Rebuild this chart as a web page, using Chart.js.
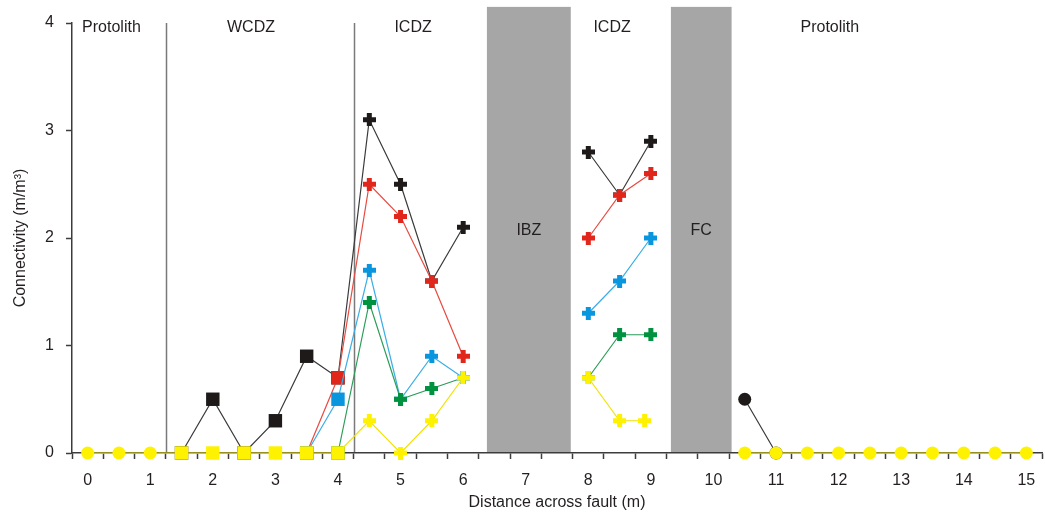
<!DOCTYPE html>
<html>
<head>
<meta charset="utf-8">
<script src="https://cdn.jsdelivr.net/npm/chart.js@4/dist/chart.umd.min.js"></script>
<style>
  html, body { margin: 0; padding: 0; background: #fff; }
  #wrap { width: 1045px; height: 522px; }
</style>
</head>
<body>
<div id="wrap"><canvas id="myChart"></canvas></div>
<script>
// Connectivity (m/m3) against distance across the fault (m); null = break in the line
const blackX  = [1.5, 2, 2.5, 3, 3.5, 4, 4.5, 5, 5.5, 6, 7, 8, 8.5, 9, 10, 10.5, 11];
const blackY  = [0, 0.5, 0, 0.3, 0.9, 0.7, 3.1, 2.5, 1.6, 2.1, null, 2.8, 2.4, 2.9, null, 0.5, 0];
const redX    = [3.5, 4, 4.5, 5, 5.5, 6, 7, 8, 8.5, 9];
const redY    = [0, 0.7, 2.5, 2.2, 1.6, 0.9, null, 2.0, 2.4, 2.6];
const blueX   = [3.5, 4, 4.5, 5, 5.5, 6, 7, 8, 8.5, 9];
const blueY   = [0, 0.5, 1.7, 0.5, 0.9, 0.7, null, 1.3, 1.6, 2.0];
const greenX  = [4, 4.5, 5, 5.5, 6, 7, 8, 8.5, 9];
const greenY  = [0, 1.4, 0.5, 0.6, 0.7, null, 0.7, 1.1, 1.1];
const yellowX = [0, 0.5, 1, 1.5, 2, 2.5, 3, 3.5, 4, 4.5, 5, 5.5, 6, 7, 8, 8.5, 8.9, 10,
                 10.5, 11, 11.5, 12, 12.5, 13, 13.5, 14, 14.5, 15];
const yellowY = [0, 0, 0, 0, 0, 0, 0, 0, 0, 0.3, 0, 0.3, 0.7, null, 0.7, 0.3, 0.3, null,
                 0, 0, 0, 0, 0, 0, 0, 0, 0, 0];

// zones along the traverse
const zoneLabels = ['Protolith', 'WCDZ', 'ICDZ', 'ICDZ', 'Protolith'];
const zoneLabelX = [0.38, 2.61, 5.2, 8.38, 11.86];
const zoneLines  = [1.25, 4.25];
const bandLabels = ['IBZ', 'FC'];
const bandFrom   = [6.38, 9.32];
const bandTo     = [7.72, 10.29];

const textColor = '#231f20';
const axisColor = '#3c3c3c';
const fontFam = '"Liberation Sans", Arial, sans-serif';

function plusMarker(color) {
  const s = 13, a = 5, o = 4;
  const c = document.createElement('canvas');
  c.width = s; c.height = s;
  const g = c.getContext('2d');
  g.fillStyle = color;
  g.fillRect(o, 0, a, s);
  g.fillRect(0, o, s, a);
  return c;
}

// marker shape depends on which zone the sample sits in
function markerFor(x, plus) {
  if (x < 1.25 || x > 10.3) return 'circle';
  if (x < 4.25) return 'rect';
  return plus;
}
function radiusFor(x) {
  if (x < 1.25 || x > 10.3) return 6.5;
  if (x < 4.25) return 9.5;
  return 7;
}

function series(xs, ys, marker, line) {
  const plus = plusMarker(marker);
  return {
    data: xs.map((x, i) => ({ x: x, y: ys[i] })),
    borderColor: line,
    borderWidth: 1.2,
    backgroundColor: marker,
    pointBackgroundColor: marker,
    pointBorderColor: marker,
    pointBorderWidth: 0,
    pointStyle: xs.map(x => markerFor(x, plus)),
    pointRadius: xs.map(x => radiusFor(x)),
    tension: 0,
    spanGaps: false,
    clip: false
  };
}

const xTickValues = [];
for (let i = 0; i <= 62; i++) xTickValues.push(-0.25 + i * 0.25);

const zones = {
  id: 'zones',
  beforeDraw(chart) {
    const { ctx, chartArea } = chart;
    const xs = chart.scales.x, ys = chart.scales.y;
    ctx.save();
    ctx.fillStyle = '#a6a6a6';
    const bandTop = ys.getPixelForValue(4.15);
    for (let i = 0; i < bandFrom.length; i++) {
      const l = xs.getPixelForValue(bandFrom[i]);
      const r = xs.getPixelForValue(bandTo[i]);
      ctx.fillRect(l, bandTop, r - l, chartArea.bottom - bandTop);
    }
    ctx.strokeStyle = '#7a7a7a';
    ctx.lineWidth = 1.5;
    zoneLines.forEach(v => {
      const px = Math.round(xs.getPixelForValue(v)) + 0.5;
      ctx.beginPath();
      ctx.moveTo(px, chartArea.top);
      ctx.lineTo(px, chartArea.bottom);
      ctx.stroke();
    });
    ctx.fillStyle = textColor;
    ctx.font = '16px ' + fontFam;
    ctx.textAlign = 'center';
    ctx.textBaseline = 'middle';
    zoneLabels.forEach((t, i) => {
      ctx.fillText(t, xs.getPixelForValue(zoneLabelX[i]), ys.getPixelForValue(3.96));
    });
    bandLabels.forEach((t, i) => {
      ctx.fillText(t, xs.getPixelForValue((bandFrom[i] + bandTo[i]) / 2), ys.getPixelForValue(2.07));
    });
    ctx.restore();
  }
};

new Chart(document.getElementById('myChart').getContext('2d'), {
  type: 'line',
  data: {
    datasets: [
      series(yellowX, yellowY, '#fff200', '#f2e200'),
      series(greenX, greenY, '#00923f', '#2a9d58'),
      series(blueX, blueY, '#0a96de', '#3aaee6'),
      series(redX, redY, '#e1261c', '#e84a40'),
      series(blackX, blackY, '#1e1a1a', '#3a3a3a')
    ]
  },
  options: {
    responsive: true,
    maintainAspectRatio: false,
    animation: false,
    layout: { autoPadding: false, padding: { top: 23, right: 3, left: 0, bottom: 0 } },
    plugins: {
      legend: { display: false },
      tooltip: { enabled: false }
    },
    scales: {
      x: {
        type: 'linear',
        min: -0.25,
        max: 15.25,
        afterBuildTicks: axis => { axis.ticks = xTickValues.map(v => ({ value: v })); },
        afterFit: axis => { axis.height = 69; axis.paddingLeft = 0; axis.paddingRight = 0; },
        ticks: {
          autoSkip: false,
          maxRotation: 0,
          padding: 12,
          color: textColor,
          font: { family: fontFam, size: 16 },
          callback: v => Number.isInteger(v) ? String(v) : ''
        },
        grid: {
          drawOnChartArea: false,
          tickLength: 6,
          tickWidth: 1.5,
          tickColor: c => (c.tick && Math.abs(c.tick.value % 0.5) === 0.25) ? axisColor : 'rgba(0,0,0,0)'
        },
        border: { color: axisColor, width: 1.5 },
        title: {
          display: true,
          text: 'Distance across fault (m)',
          color: textColor,
          font: { family: fontFam, size: 16 },
          padding: { top: 0, bottom: 10 }
        }
      },
      y: {
        min: 0,
        max: 4,
        afterFit: axis => { axis.width = 72; },
        ticks: {
          stepSize: 1,
          padding: 12,
          color: textColor,
          font: { family: fontFam, size: 16 }
        },
        grid: {
          drawOnChartArea: false,
          tickLength: 6,
          tickWidth: 1.5,
          tickColor: axisColor
        },
        border: { color: axisColor, width: 1.5 },
        title: {
          display: true,
          text: 'Connectivity (m/m³)',
          color: textColor,
          font: { family: fontFam, size: 16 },
          padding: { top: 11, bottom: 0 }
        }
      }
    }
  },
  plugins: [zones]
});
</script>
</body>
</html>
